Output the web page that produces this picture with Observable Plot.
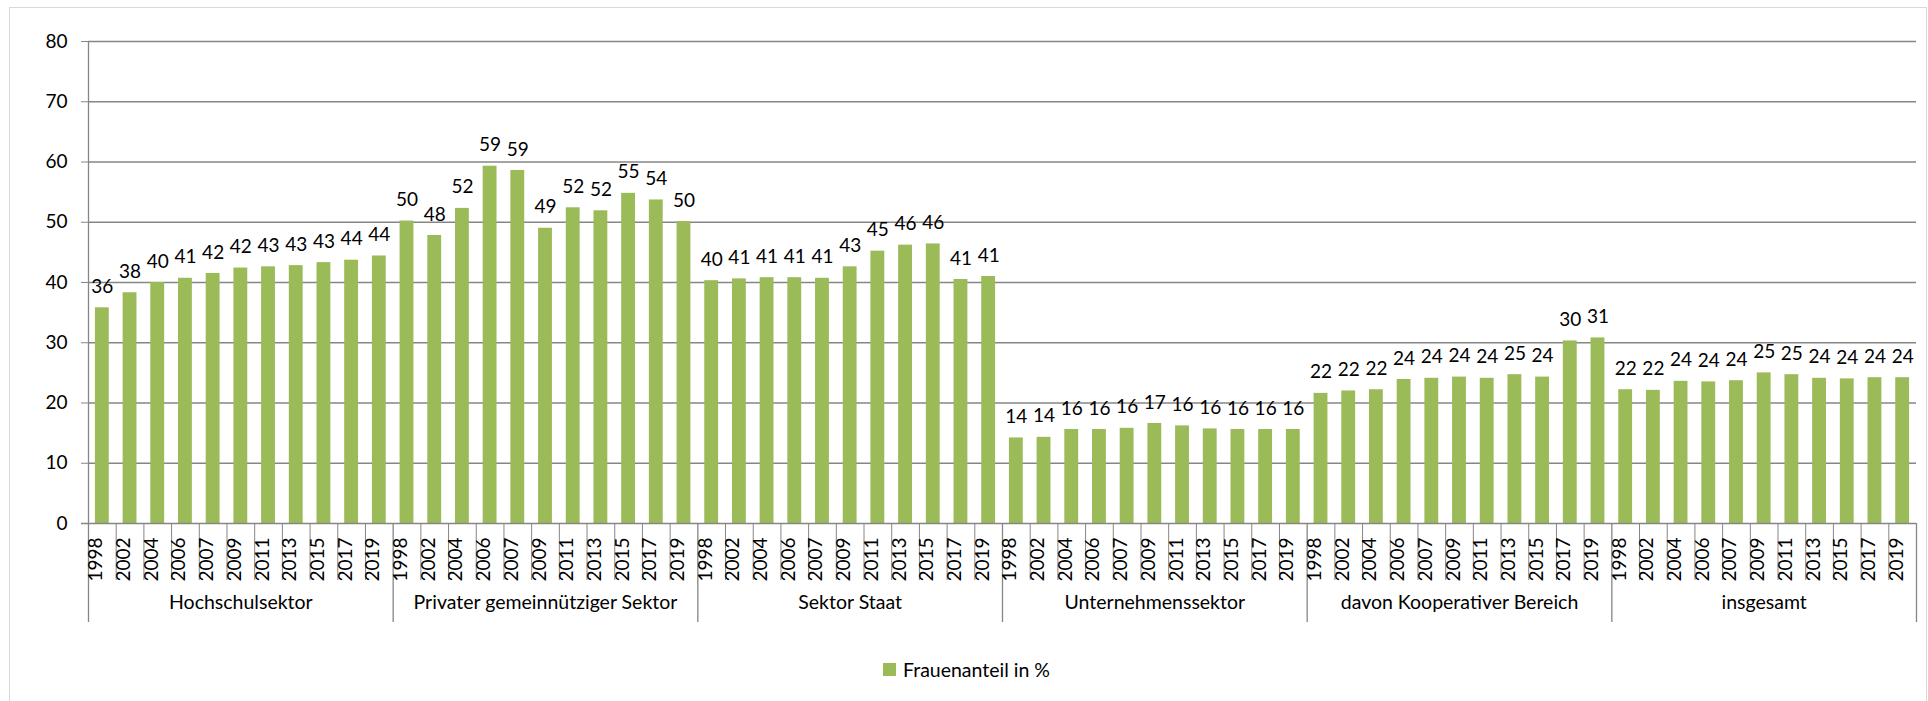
<!DOCTYPE html>
<html>
<head>
<meta charset="utf-8">
<script src="https://cdn.jsdelivr.net/npm/d3@7"></script>
<script src="https://cdn.jsdelivr.net/npm/@observablehq/plot@0.6"></script>
<style>
  body { margin: 0; background: #fff; }
  #wrap { position: relative; width: 1928px; height: 701px; overflow: hidden; font-family: Lato, "Open Sans", sans-serif; }
  #frame { position: absolute; left: 9px; top: 7px; width: 1918px; height: 720px; border: 1px solid #d9d9d9; box-sizing: border-box; }
  #chart { position: absolute; left: 0; top: 0; }
  #legend { position: absolute; left: 883px; top: 658px; height: 22px; display: flex; align-items: center; font-size: 19.5px; color: #000; }
  #legend .sw { display: inline-block; width: 13px; height: 13px; background: #9bbb59; margin-right: 7px; }
</style>
</head>
<body>
<div id="wrap">
  <div id="frame"></div>
  <div id="chart"></div>
  <div id="legend"><span class="sw"></span><span id="legendText"></span></div>
</div>
<script>
// ---- data ----
const groups = ["Hochschulsektor", "Privater gemeinnütziger Sektor", "Sektor Staat", "Unternehmenssektor", "davon Kooperativer Bereich", "insgesamt"];
const years = ["1998", "2002", "2004", "2006", "2007", "2009", "2011", "2013", "2015", "2017", "2019"];
const hochschul   = [35.8, 38.3, 40.0, 40.7, 41.5, 42.4, 42.6, 42.8, 43.3, 43.7, 44.4];
const privat      = [50.2, 47.8, 52.3, 59.3, 58.6, 49.0, 52.4, 51.9, 54.8, 53.7, 50.1];
const staat       = [40.3, 40.6, 40.8, 40.8, 40.7, 42.6, 45.2, 46.2, 46.4, 40.5, 41.0];
const unternehmen = [14.2, 14.3, 15.6, 15.6, 15.8, 16.6, 16.2, 15.7, 15.6, 15.6, 15.6];
const kooperativ  = [21.6, 22.0, 22.2, 23.9, 24.1, 24.3, 24.1, 24.7, 24.3, 30.3, 30.8];
const insgesamt   = [22.2, 22.1, 23.6, 23.5, 23.7, 25.0, 24.7, 24.1, 24.0, 24.2, 24.2];
const seriesValues = [hochschul, privat, staat, unternehmen, kooperativ, insgesamt];
const yTicks = [0, 10, 20, 30, 40, 50, 60, 70, 80];
const seriesName = "Frauenanteil in %";

// ---- table ----
const data = groups.flatMap((g, gi) => years.map((y, yi) => ({group: g, year: y, key: g + "|" + y, value: seriesValues[gi][yi]})));
const keys = data.map(d => d.key);
const firstKeys = groups.map(g => g + "|" + years[0]);
const midKeys = groups.map(g => g + "|" + years[5]);
const innerKeys = keys.filter(k => !firstKeys.includes(k));
const lastKey = keys[keys.length - 1];
const groupLabels = groups.map((g, i) => ({key: midKeys[i], label: g}));

const W = 1928, H = 701, mL = 88, mR = 12, mT = 41, mB = 178;
const step = (W - mL - mR) / keys.length;
const plotH = H - mT - mB;
const grid = "#868686";
const font = "Lato, 'Open Sans', sans-serif";
const numSize = 19, wordSize = 19.5;

const chart = Plot.plot({
  width: W, height: H,
  marginLeft: mL, marginRight: mR, marginTop: mT, marginBottom: mB,
  style: {fontFamily: font, fontSize: numSize + "px", color: "#000", background: "transparent", overflow: "visible"},
  x: {type: "band", domain: keys, padding: 0, axis: null},
  y: {domain: [0, 80], axis: null},
  marks: [
    Plot.ruleY(yTicks.slice(1), {stroke: grid, strokeWidth: 1.3}),
    Plot.barY(data, {x: "key", y: "value", fill: "#9bbb59", insetLeft: step * 0.25, insetRight: step * 0.25}),
    Plot.text(data, {x: "key", y: "value", text: d => String(Math.round(d.value)), dy: -21, fill: "#000", fontSize: numSize}),
    // y axis
    Plot.axisY({ticks: yTicks, tickSize: 7, tickPadding: 14, label: null, stroke: grid, fill: "#000", fontSize: numSize}),
    Plot.ruleY([0], {stroke: grid, strokeWidth: 1.3, insetLeft: -7}),
    // left axis line (extends to group separator depth)
    Plot.ruleX([keys[0]], {x: d => d, dx: -step / 2, stroke: grid, strokeWidth: 1.3, insetBottom: -99}),
    // year dividers below axis
    Plot.ruleX(innerKeys, {x: d => d, dx: -step / 2, stroke: grid, strokeWidth: 1, insetTop: plotH, insetBottom: -57}),
    // group separators
    Plot.ruleX(firstKeys.slice(1), {x: d => d, dx: -step / 2, stroke: grid, strokeWidth: 1.3, insetTop: plotH, insetBottom: -99}),
    Plot.ruleX([lastKey], {x: d => d, dx: step / 2, stroke: grid, strokeWidth: 1.3, insetTop: plotH, insetBottom: -99}),
    // year labels
    Plot.text(data, {x: "key", frameAnchor: "bottom", text: "year", rotate: -90, textAnchor: "end", dy: 14, fill: "#000", fontSize: numSize}),
    // group labels
    Plot.text(groupLabels, {x: "key", frameAnchor: "bottom", text: "label", dy: 85, fill: "#000", fontSize: wordSize})
  ]
});
document.getElementById("chart").appendChild(chart);
document.getElementById("legendText").textContent = seriesName;
</script>
</body>
</html>
